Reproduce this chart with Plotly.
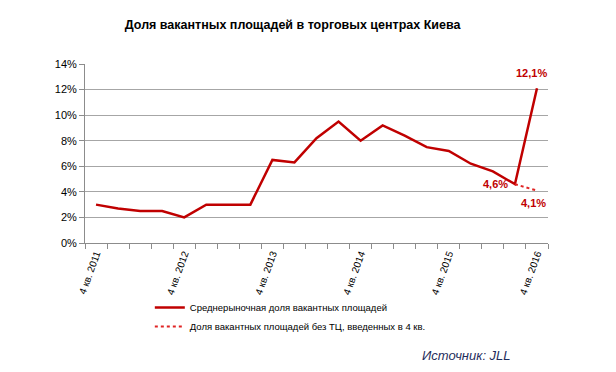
import plotly.graph_objects as go

quarters = ["4 кв. 2011", "1 кв. 2012", "2 кв. 2012", "3 кв. 2012", "4 кв. 2012",
            "1 кв. 2013", "2 кв. 2013", "3 кв. 2013", "4 кв. 2013",
            "1 кв. 2014", "2 кв. 2014", "3 кв. 2014", "4 кв. 2014",
            "1 кв. 2015", "2 кв. 2015", "3 кв. 2015", "4 кв. 2015",
            "1 кв. 2016", "2 кв. 2016", "3 кв. 2016", "4 кв. 2016"]
vacancy = [3.0, 2.7, 2.5, 2.5, 2.0, 3.0, 3.0, 3.0, 6.5, 6.3, 8.2, 9.5, 8.0, 9.2, 8.4,
           7.5, 7.2, 6.2, 5.6, 4.6, 12.1]
vacancy_excl_quarters = ["3 кв. 2016", "4 кв. 2016"]
vacancy_excl = [4.6, 4.1]
y_ticks = [0, 2, 4, 6, 8, 10, 12, 14]

series1_name = "Среднерыночная доля вакантных площадей"
series2_name = "Доля вакантных площадей без ТЦ, введенных в 4 кв."

xi = list(range(len(quarters)))
xi2 = [quarters.index(q) for q in vacancy_excl_quarters]
label_idx = xi[::4]

FONT = "Liberation Sans, Arial, sans-serif"

fig = go.Figure()
fig.add_trace(go.Scatter(x=xi, y=vacancy, mode="lines", name=series1_name,
                         line=dict(color="#C00000", width=2.5)))
fig.add_trace(go.Scatter(x=xi2, y=vacancy_excl, mode="lines", name=series2_name,
                         line=dict(color="#E02424", width=2, dash="dot")))

ann_font = dict(family=FONT, size=11, color="#C00000")
fig.add_annotation(x=xi[-1], y=vacancy[-1], text="<b>12,1%</b>", showarrow=False,
                   xref="x", yref="y", yshift=15, xshift=-5, font=ann_font)
fig.add_annotation(x=xi[-2], y=vacancy[-2], text="<b>4,6%</b>", showarrow=False,
                   xref="x", yref="y", xanchor="right", xshift=-5, font=ann_font)
fig.add_annotation(x=xi2[-1], y=vacancy_excl[-1], text="<b>4,1%</b>", showarrow=False,
                   xref="x", yref="y", yshift=-12, xshift=-3, font=ann_font)
fig.add_annotation(x=0.823, y=-0.626, xref="paper", yref="paper",
                   xanchor="center", yanchor="middle",
                   text="<i>Источник: JLL</i>", showarrow=False,
                   font=dict(family=FONT, size=13, color="#1F2D5C"))

fig.update_layout(
    width=616, height=372,
    margin=dict(l=77, r=76, t=56, b=137, autoexpand=False),
    paper_bgcolor="white", plot_bgcolor="white",
    title=dict(text="<b>Доля вакантных площадей в торговых центрах Киева</b>",
               x=0.462, xanchor="center", y=0.954, yanchor="middle",
               font=dict(family=FONT, size=12.5, color="black")),
    font=dict(family=FONT, size=11, color="black"),
    showlegend=True,
    legend=dict(x=0.14, y=-0.279, xanchor="left", yanchor="top",
                font=dict(family=FONT, size=9.5, color="black"),
                itemwidth=30, bgcolor="rgba(0,0,0,0)", tracegroupgap=5),
    xaxis=dict(range=[-0.5, len(quarters) - 0.5], tickvals=label_idx,
               ticktext=[quarters[i] for i in label_idx], tickangle=-70,
               ticks="", showgrid=False, zeroline=False, automargin=False,
               showline=True, linecolor="#8C8C8C", linewidth=1,
               minor=dict(tickvals=[i - 0.5 for i in range(len(quarters) + 1)],
                          ticks="outside", ticklen=5, tickcolor="#8C8C8C"),
               tickfont=dict(family=FONT, size=10)),
    yaxis=dict(range=[0, 14], tickvals=y_ticks,
               ticktext=[f"{v}%" for v in y_ticks], automargin=False,
               showgrid=True, gridcolor="#A6A6A6", gridwidth=1,
               zeroline=False, showline=True, linecolor="#8C8C8C", linewidth=1,
               ticks="outside", ticklen=5, tickcolor="#8C8C8C",
               tickfont=dict(family=FONT, size=11)),
)

fig.write_html("out.html")
